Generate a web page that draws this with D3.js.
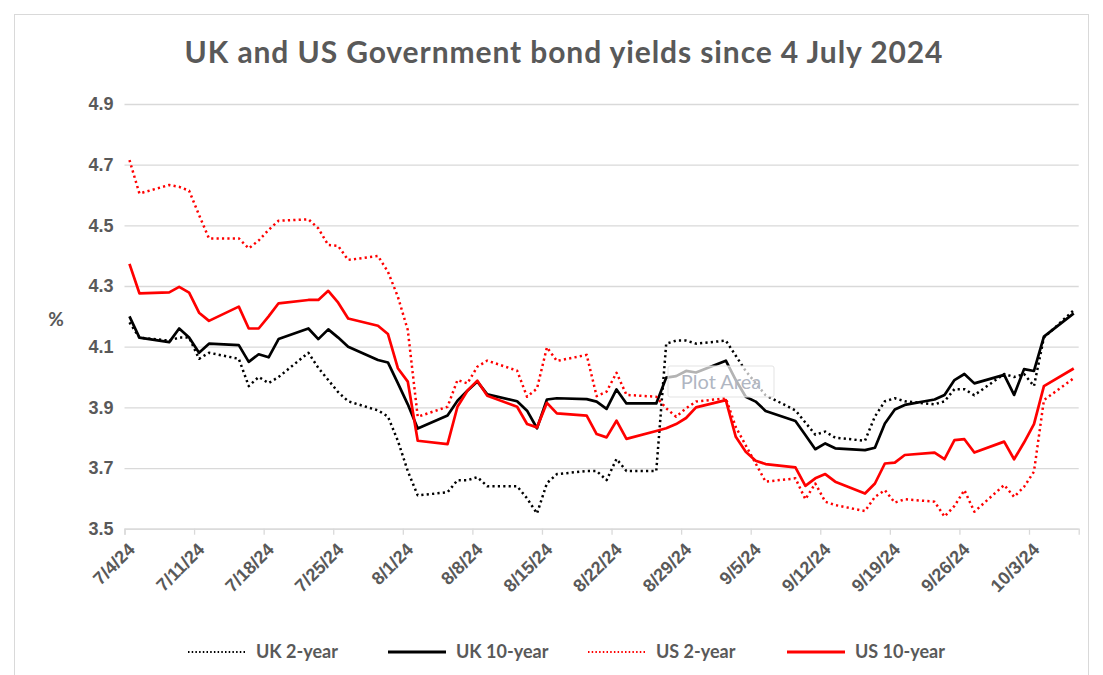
<!DOCTYPE html>
<html>
<head>
<meta charset="utf-8">
<script src="https://d3js.org/d3.v7.min.js"></script>
<style>
  body { margin: 0; background: #fff; }
  svg { font-family: Lato, "Open Sans", sans-serif; }
  .grid line { stroke: #d9d9d9; stroke-width: 1.3; }
  .axis text { fill: #595959; font-weight: bold; font-size: 18px; }
  .line { fill: none; stroke-linejoin: round; }
</style>
</head>
<body>
<div id="chart"></div>
<script>
// business days, 4 July to 7 October 2024
var dates = [
  "2024-07-04","2024-07-05",
  "2024-07-08","2024-07-09","2024-07-10","2024-07-11","2024-07-12",
  "2024-07-15","2024-07-16","2024-07-17","2024-07-18","2024-07-19",
  "2024-07-22","2024-07-23","2024-07-24","2024-07-25","2024-07-26",
  "2024-07-29","2024-07-30","2024-07-31","2024-08-01","2024-08-02",
  "2024-08-05","2024-08-06","2024-08-07","2024-08-08","2024-08-09",
  "2024-08-12","2024-08-13","2024-08-14","2024-08-15","2024-08-16",
  "2024-08-19","2024-08-20","2024-08-21","2024-08-22","2024-08-23",
  "2024-08-26","2024-08-27","2024-08-28","2024-08-29","2024-08-30",
  "2024-09-02","2024-09-03","2024-09-04","2024-09-05","2024-09-06",
  "2024-09-09","2024-09-10","2024-09-11","2024-09-12","2024-09-13",
  "2024-09-16","2024-09-17","2024-09-18","2024-09-19","2024-09-20",
  "2024-09-23","2024-09-24","2024-09-25","2024-09-26","2024-09-27",
  "2024-09-30","2024-10-01","2024-10-02","2024-10-03","2024-10-04",
  "2024-10-07"
];

var uk2 = [
  4.18, 4.13,
  4.12, 4.13, 4.13, 4.06, 4.08,
  4.06, 3.97, 4.00, 3.98, 4.00,
  4.08, 4.03, 3.99, 3.95, 3.92,
  3.89, 3.87, 3.79, 3.69, 3.61,
  3.62, 3.66, 3.66, 3.67, 3.64,
  3.64, 3.60, 3.55, 3.65, 3.68,
  3.69, 3.69, 3.66, 3.73, 3.69,
  3.69, 4.11, 4.12, 4.12, 4.11,
  4.12, 4.07, 4.02, 3.98, 3.94,
  3.89, 3.85, 3.81, 3.82, 3.80,
  3.79, 3.87, 3.92, 3.93, 3.92,
  3.91, 3.92, 3.96, 3.96, 3.94,
  4.01, 4.00, 4.01, 3.97, 4.13,
  4.22
];

var uk10 = [
  4.20, 4.13,
  4.115, 4.16, 4.13, 4.08, 4.11,
  4.105, 4.05, 4.075, 4.065, 4.125,
  4.16, 4.125, 4.157, 4.13, 4.10,
  4.056, 4.048, 3.98, 3.91, 3.83,
  3.873, 3.922, 3.955, 3.985, 3.943,
  3.92, 3.889, 3.831, 3.926, 3.93,
  3.927, 3.919, 3.895, 3.959, 3.913,
  3.913, 3.998, 4.003, 4.02, 4.015,
  4.054, 3.99, 3.935, 3.919, 3.888,
  3.855, 3.809, 3.762, 3.781, 3.765,
  3.759, 3.767, 3.847, 3.893, 3.908,
  3.926, 3.941, 3.99, 4.01, 3.979,
  4.007, 3.941, 4.026, 4.02, 4.133,
  4.21
];

var us2 = [
  4.715, 4.605,
  4.633, 4.627, 4.614, 4.534, 4.457,
  4.457, 4.424, 4.45, 4.485, 4.515,
  4.52, 4.49, 4.435, 4.432, 4.386,
  4.399, 4.347, 4.265, 4.155, 3.869,
  3.902, 3.99, 3.979, 4.034, 4.054,
  4.021, 3.935, 3.962, 4.098, 4.053,
  4.073, 3.937, 3.952, 4.014, 3.941,
  3.935, 3.897, 3.869, 3.897, 3.919,
  3.93, 3.835, 3.775, 3.715, 3.655,
  3.666, 3.597, 3.649, 3.589, 3.578,
  3.558, 3.605, 3.627, 3.586, 3.597,
  3.589, 3.54, 3.575, 3.627, 3.556,
  3.644, 3.605, 3.638, 3.688, 3.924,
  3.996
];

var us10 = [
  4.373, 4.276,
  4.279, 4.297, 4.278, 4.212, 4.185,
  4.232, 4.16, 4.16, 4.2, 4.243,
  4.254, 4.254, 4.284, 4.245, 4.193,
  4.169, 4.142, 4.029, 3.985, 3.79,
  3.779, 3.902, 3.955, 3.988, 3.938,
  3.902, 3.845, 3.834, 3.915, 3.88,
  3.873, 3.812, 3.801, 3.856, 3.796,
  3.822, 3.831, 3.845, 3.865, 3.9,
  3.924, 3.803, 3.754, 3.724, 3.713,
  3.702, 3.641, 3.666, 3.68, 3.655,
  3.616, 3.649, 3.715, 3.718, 3.743,
  3.751, 3.729, 3.792, 3.795, 3.751,
  3.787, 3.729, 3.784, 3.845, 3.97,
  4.028
];

var tickDates = ["2024-07-04","2024-07-11","2024-07-18","2024-07-25","2024-08-01",
  "2024-08-08","2024-08-15","2024-08-22","2024-08-29","2024-09-05","2024-09-12",
  "2024-09-19","2024-09-26","2024-10-03"];
var yTicks = [3.5, 3.7, 3.9, 4.1, 4.3, 4.5, 4.7, 4.9];

var seriesNames = ["UK 2-year", "UK 10-year", "US 2-year", "US 10-year"];

var parse = d3.timeParse("%Y-%m-%d");
var fmt = function(d) { return (d.getMonth() + 1) + "/" + d.getDate() + "/" + String(d.getFullYear()).slice(2); };

var W = 1103, H = 675;
var margin = {left: 124.5, right: 24.3, top: 104, bottom: 146.3};

var svg = d3.select("#chart").append("svg")
  .attr("width", W).attr("height", H);

// outer chart border
svg.append("rect")
  .attr("x", 14.5).attr("y", 14.5)
  .attr("width", W - 29).attr("height", H - 14)
  .attr("fill", "none").attr("stroke", "#d9d9d9");

var x = d3.scaleTime()
  .domain([parse("2024-07-04"), parse("2024-10-08")])
  .range([margin.left, W - margin.right]);

var y = d3.scaleLinear()
  .domain([3.5, 4.9])
  .range([H - margin.bottom, margin.top]);

// points sit in the middle of their day
var xMid = function(d) { return x(d3.timeHour.offset(d, 12)); };

// horizontal grid
svg.append("g")
  .attr("class", "grid")
  .attr("transform", "translate(" + margin.left + ",0)")
  .call(d3.axisLeft(y).tickValues(yTicks).tickSize(-(W - margin.left - margin.right)).tickFormat(""))
  .call(function(g) { g.select(".domain").remove(); });

// y axis labels
svg.append("g")
  .attr("class", "axis")
  .attr("transform", "translate(" + margin.left + ",0)")
  .call(d3.axisLeft(y).tickValues(yTicks).tickSize(0).tickPadding(11).tickFormat(d3.format(".1f")))
  .call(function(g) { g.select(".domain").remove(); });

// x axis
var xAxis = svg.append("g")
  .attr("class", "axis")
  .attr("transform", "translate(0," + y(3.5) + ")")
  .call(d3.axisBottom(x).tickValues(tickDates.map(parse)).tickSize(6).tickFormat(fmt));
xAxis.select(".domain").attr("stroke", "#d9d9d9").attr("stroke-width", 1.3);
xAxis.selectAll(".tick line").attr("stroke", "#d9d9d9").attr("stroke-width", 1.3);
xAxis.selectAll(".tick text")
  .attr("text-anchor", "end")
  .attr("dy", null)
  .attr("y", 0)
  .attr("transform", "translate(11,22) rotate(-45)");

svg.append("text")
  .attr("x", 56).attr("y", 326)
  .attr("text-anchor", "middle")
  .attr("fill", "#595959")
  .attr("font-weight", "bold")
  .attr("font-size", 19)
  .text("%");

// title
svg.append("text")
  .attr("x", 564).attr("y", 63)
  .attr("text-anchor", "middle")
  .attr("fill", "#595959")
  .attr("font-weight", "bold")
  .attr("font-size", 30)
  .attr("letter-spacing", 0.9)
  .text("UK and US Government bond yields since 4 July 2024");

var styles = [
  {color: "#000", width: 2.5, dash: "2.2,3.2"},
  {color: "#000", width: 2.7, dash: null},
  {color: "#ff0000", width: 2.5, dash: "2.2,3.2"},
  {color: "#ff0000", width: 2.7, dash: null}
];
var allSeries = [uk2, uk10, us2, us10];

var line = d3.line()
  .x(function(d) { return xMid(d.date); })
  .y(function(d) { return y(d.v); });

allSeries.forEach(function(vals, i) {
  var pts = vals.map(function(v, j) { return {date: parse(dates[j]), v: v}; });
  svg.append("path")
    .datum(pts)
    .attr("class", "line")
    .attr("stroke", styles[i].color)
    .attr("stroke-width", styles[i].width)
    .attr("stroke-dasharray", styles[i].dash)
    .attr("d", line);
});

// hover tooltip left in the screenshot
var tip = svg.append("g").attr("transform", "translate(668,366)");
tip.append("rect")
  .attr("width", 106).attr("height", 31).attr("rx", 2)
  .attr("fill", "#fff").attr("fill-opacity", 0.7)
  .attr("stroke", "#e3e3e3");
tip.append("text")
  .attr("x", 53).attr("y", 23)
  .attr("text-anchor", "middle")
  .attr("fill", "#b0b6c2")
  .attr("font-size", 20)
  .text("Plot Area");

// legend
var legendX = [188, 388, 588, 787];
var leg = svg.append("g").attr("class", "legend");
seriesNames.forEach(function(name, i) {
  var g = leg.append("g").attr("transform", "translate(" + legendX[i] + ",652)");
  g.append("line")
    .attr("x1", 0).attr("x2", 58)
    .attr("stroke", styles[i].color)
    .attr("stroke-width", styles[i].dash ? 1.8 : 3)
    .attr("stroke-dasharray", styles[i].dash ? "1.5,2.2" : null);
  g.append("text")
    .attr("x", 68).attr("y", 6)
    .attr("fill", "#595959")
    .attr("font-weight", "bold")
    .attr("font-size", 18)
    .text(name);
});
</script>
</body>
</html>
